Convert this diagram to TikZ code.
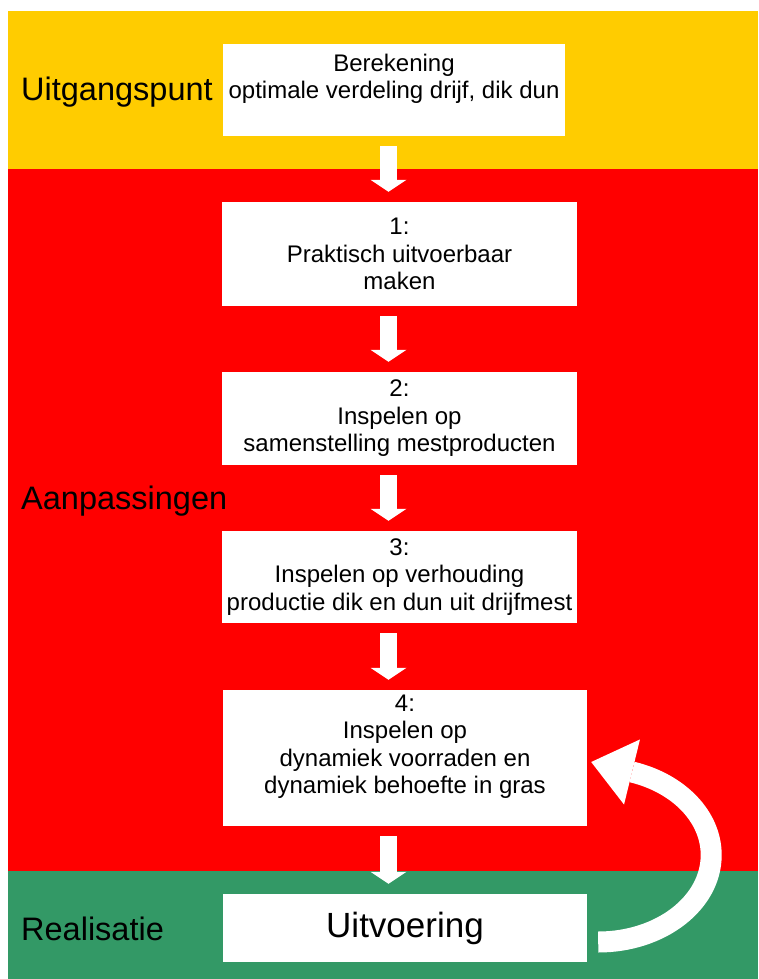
\documentclass[tikz,border=0pt]{standalone}
\usepackage{fontspec}
\setmainfont{Liberation Sans}
\usetikzlibrary{arrows.meta,positioning}
\definecolor{bandyellow}{HTML}{FFCC00}
\definecolor{bandred}{HTML}{FF0000}
\definecolor{bandgreen}{HTML}{339966}

\begin{document}
\begin{tikzpicture}
    [x=1pt,y=-1pt,
    stepbox/.style={fill=white,inner sep=0pt,align=center,
    font=\fontsize{24}{27.5}\selectfont},
    phase/.style={anchor=west,inner sep=0pt,font=\fontsize{32.5}{38}\selectfont},
    flow/.style={white,line width=17pt,
    -{Triangle[length=12pt,width=36pt,line width=0pt]}},
    loopback/.style={white,line width=21pt,
    -{Triangle[length=42pt,width=67pt,line width=0pt]}}]
    \useasboundingbox (0,0) rectangle (758,979);
    % bands
    \fill[bandyellow] (8,11) rectangle (758,169);
    \fill[bandred] (8,169) rectangle (758,871);
    \fill[bandgreen] (8,871) rectangle (758,979);
    % phases
    \node[phase] (start) at (21,92) {Uitgangspunt};
    \node[phase] (adjust) at (21,501) {Aanpassingen};
    \node[phase] (realise) at (21,929) {Realisatie};
    % steps
    \node[stepbox,minimum width=342pt,minimum height=92pt] (calc) at (394,90)
        {Berekening\\optimale verdeling drijf, dik dun\\\mbox{}};
    \node[stepbox,minimum width=355pt,minimum height=104pt] (s1) at (399.5,254)
        {1:\\Praktisch uitvoerbaar\\maken};
    \node[stepbox,minimum width=355pt,minimum height=93pt] (s2) at (399.5,418.5)
        {2:\\Inspelen op\\samenstelling mestproducten};
    \node[stepbox,minimum width=355pt,minimum height=92pt] (s3) at (399.5,577)
        {3:\\Inspelen op verhouding\\productie dik en dun uit drijfmest};
    \node[stepbox,minimum width=364pt,minimum height=136pt] (s4) at (405,758)
        {4:\\Inspelen op\\dynamiek voorraden en\\dynamiek behoefte in gras\\\mbox{}};
    \node[stepbox,minimum width=364pt,minimum height=68pt,
        font=\fontsize{35}{42}\selectfont] (exec) at (405,928) {Uitvoering};
    % arrows
    \coordinate (ax) at (388.5,0);
    \foreach \a/\b in {calc/s1,s1/s2,s2/s3,s3/s4,s4/exec}
        \draw[flow] ([yshift=-10pt]\a.south -| ax) -- ([yshift=10pt]\b.north -| ax);
    \draw[loopback] ([xshift=11pt,yshift=-14pt]exec.east)
        arc[start angle=90,end angle=-72.5,x radius=113,y radius=87]
        -- ([xshift=4pt,yshift=-4pt]s4.east);
\end{tikzpicture}
\end{document}
